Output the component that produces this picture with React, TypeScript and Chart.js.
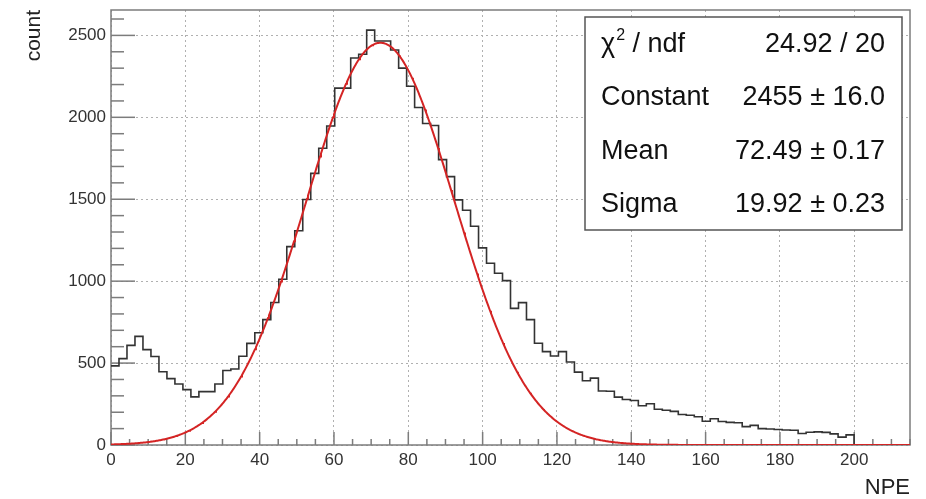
import React, { useEffect, useRef } from "react";
import { Chart, registerables } from "chart.js";

Chart.register(...registerables);

// ---- Data ----
const X_MIN = 0;
const X_MAX = 215;
const BIN_WIDTH = 2.15; // 100 bins over [0, 215]
const Y_MIN = 0;
const Y_MAX = 2655;

// histogram bin contents (NPE), bins of width 2.15 starting at 0
const COUNTS = [
  483, 527, 608, 663, 582, 540, 447, 405, 372, 338,
  294, 326, 326, 372, 455, 464, 542, 620, 685, 765,
  870, 1012, 1211, 1308, 1498, 1658, 1811, 1947, 2178, 2178,
  2362, 2385, 2532, 2466, 2466, 2411, 2300, 2190, 2060, 1962,
  1950, 1742, 1638, 1496, 1433, 1335, 1203, 1109, 1048, 1003,
  834, 869, 765, 621, 570, 543, 570, 507, 445, 392,
  408, 330, 328, 292, 278, 272, 240, 252, 218, 212,
  205, 186, 182, 172, 145, 160, 143, 138, 136, 112,
  120, 100, 98, 95, 92, 90, 70, 78, 80, 77,
  68, 48, 62, 0, 0, 0, 0, 0, 0, 0,
];

// Gaussian fit parameters (from the stats box)
const FIT_CONSTANT = 2455;
const FIT_MEAN = 72.49;
const FIT_SIGMA = 19.92;
const FIT_SAMPLE_STEP = 0.25;

const X_TICKS = [0, 20, 40, 60, 80, 100, 120, 140, 160, 180, 200];
const X_TICK_LABELS = ["0", "20", "40", "60", "80", "100", "120", "140", "160", "180", "200"];
const Y_TICKS = [0, 500, 1000, 1500, 2000, 2500];
const Y_TICK_LABELS = ["0", "500", "1000", "1500", "2000", "2500"];
const X_MINOR_STEP = 5;
const Y_MINOR_STEP = 100;

const X_TITLE = "NPE";
const Y_TITLE = "count";

const STAT_LABELS = ["χ² / ndf", "Constant", "Mean", "Sigma"];
const STAT_VALUES = ["24.92 / 20", "2455 ± 16.0", "72.49 ± 0.17", "19.92 ± 0.23"];

const FONT = '"Liberation Sans", Arial, Helvetica, sans-serif';

const framePlugin = {
  id: "rootFrame",
  beforeDatasetsDraw(chart: any) {
    const { ctx, chartArea: ca, scales } = chart;
    ctx.save();
    ctx.strokeStyle = "#7c7c7c";
    ctx.lineWidth = 1.5;
    ctx.strokeRect(ca.left, ca.top, ca.right - ca.left, ca.bottom - ca.top);
    const ys = scales.y;
    for (let v = Y_MIN; v <= Y_MAX; v += Y_MINOR_STEP) {
      const py = ys.getPixelForValue(v);
      const len = Y_TICKS.includes(v) ? 24 : 13;
      ctx.beginPath();
      ctx.moveTo(ca.left, py);
      ctx.lineTo(ca.left + len, py);
      ctx.stroke();
    }
    const xs = scales.x;
    for (let v = X_MIN; v <= X_MAX; v += X_MINOR_STEP) {
      const px = xs.getPixelForValue(v);
      const len = X_TICKS.includes(v) ? 13 : 6;
      ctx.beginPath();
      ctx.moveTo(px, ca.bottom);
      ctx.lineTo(px, ca.bottom - len);
      ctx.stroke();
    }
    ctx.restore();
  },
};

const statsPlugin = {
  id: "statsBox",
  afterDatasetsDraw(chart: any) {
    const { ctx, chartArea } = chart;
    const right = chartArea.right - 8;
    const left = right - 317;
    const top = chartArea.top + 7;
    const h = 213;
    const fs = 27;
    ctx.save();
    ctx.fillStyle = "#ffffff";
    ctx.fillRect(left, top, right - left, h);
    ctx.strokeStyle = "#555555";
    ctx.lineWidth = 1.5;
    ctx.strokeRect(left, top, right - left, h);
    ctx.fillStyle = "#111111";
    ctx.textBaseline = "middle";
    STAT_LABELS.forEach((lab, i) => {
      const cy = top + ((i + 0.5) * h) / STAT_LABELS.length + 1;
      ctx.textAlign = "left";
      ctx.font = `${fs}px ${FONT}`;
      if (lab.includes("²")) {
        const [a, b] = lab.split("²");
        ctx.fillText(a, left + 16, cy);
        let x = left + 16 + ctx.measureText(a).width + 1;
        ctx.font = `16px ${FONT}`;
        ctx.fillText("2", x, cy - 9);
        x += ctx.measureText("2").width;
        ctx.font = `${fs}px ${FONT}`;
        ctx.fillText(b, x, cy);
      } else {
        ctx.fillText(lab, left + 16, cy);
      }
      ctx.textAlign = "right";
      ctx.fillText(STAT_VALUES[i], right - 17, cy);
    });
    ctx.restore();
  },
};

export default function App() {
  const canvasRef = useRef<HTMLCanvasElement | null>(null);

  useEffect(() => {
    if (!canvasRef.current) return;
    const histPoints = COUNTS.map((c, i) => ({ x: X_MIN + i * BIN_WIDTH, y: c }));
    histPoints.push({ x: X_MAX, y: COUNTS[COUNTS.length - 1] });

    const fitPoints: { x: number; y: number }[] = [];
    for (let x = X_MIN; x <= X_MAX + 1e-9; x += FIT_SAMPLE_STEP) {
      const z = (x - FIT_MEAN) / FIT_SIGMA;
      fitPoints.push({ x, y: FIT_CONSTANT * Math.exp(-0.5 * z * z) });
    }

    const chart = new Chart(canvasRef.current, {
      type: "line",
      data: {
        datasets: [
          {
            label: "fit",
            data: fitPoints,
            borderColor: "#d42424",
            borderWidth: 2,
            pointRadius: 0,
            tension: 0,
            fill: false,
          },
          {
            label: "NPE",
            data: histPoints,
            borderColor: "#333333",
            borderWidth: 1.6,
            pointRadius: 0,
            stepped: true,
            fill: false,
          },
        ],
      },
      options: {
        animation: false,
        responsive: false,
        maintainAspectRatio: false,
        parsing: false,
        layout: { padding: { left: 0, right: 16, top: 10, bottom: 0 } },
        plugins: {
          legend: { display: false },
          tooltip: { enabled: false },
          title: { display: false },
        },
        scales: {
          x: {
            type: "linear",
            min: X_MIN,
            max: X_MAX,
            afterBuildTicks: (s: any) => {
              s.ticks = X_TICKS.map((v) => ({ value: v }));
            },
            afterFit: (s: any) => {
              s.height = 54;
              s.paddingLeft = 0;
              s.paddingRight = 0;
            },
            ticks: {
              autoSkip: false,
              maxRotation: 0,
              padding: 5,
              color: "#333333",
              font: { family: FONT, size: 17 },
              callback: (v: any) => {
                const i = X_TICKS.indexOf(Number(v));
                return i >= 0 ? X_TICK_LABELS[i] : "";
              },
            },
            grid: { color: "#b0b0b0", lineWidth: 1, drawTicks: false },
            border: { display: false, dash: [2, 3] },
            title: {
              display: true,
              text: X_TITLE,
              align: "end",
              color: "#222222",
              font: { family: FONT, size: 22, lineHeight: 1.0 },
              padding: { top: 0, bottom: 0 },
            },
          },
          y: {
            type: "linear",
            min: Y_MIN,
            max: Y_MAX,
            afterBuildTicks: (s: any) => {
              s.ticks = Y_TICKS.map((v) => ({ value: v }));
            },
            afterFit: (s: any) => {
              s.width = 111;
              s.paddingTop = 0;
              s.paddingBottom = 0;
            },
            ticks: {
              autoSkip: false,
              padding: 5,
              color: "#333333",
              font: { family: FONT, size: 17 },
              callback: (v: any) => {
                const i = Y_TICKS.indexOf(Number(v));
                return i >= 0 ? Y_TICK_LABELS[i] : "";
              },
            },
            grid: { color: "#b0b0b0", lineWidth: 1, drawTicks: false },
            border: { display: false, dash: [2, 3] },
            title: {
              display: true,
              text: Y_TITLE,
              align: "end",
              color: "#222222",
              font: { family: FONT, size: 21 },
              padding: { top: 22, bottom: 0 },
            },
          },
        },
      },
      plugins: [framePlugin, statsPlugin],
    } as any);
    return () => chart.destroy();
  }, []);

  return (
    <div style={{ position: "fixed", left: 0, top: 0, width: 926, height: 499, background: "#fff" }}>
      <canvas ref={canvasRef} width={926} height={499} style={{ display: "block" }} />
    </div>
  );
}
